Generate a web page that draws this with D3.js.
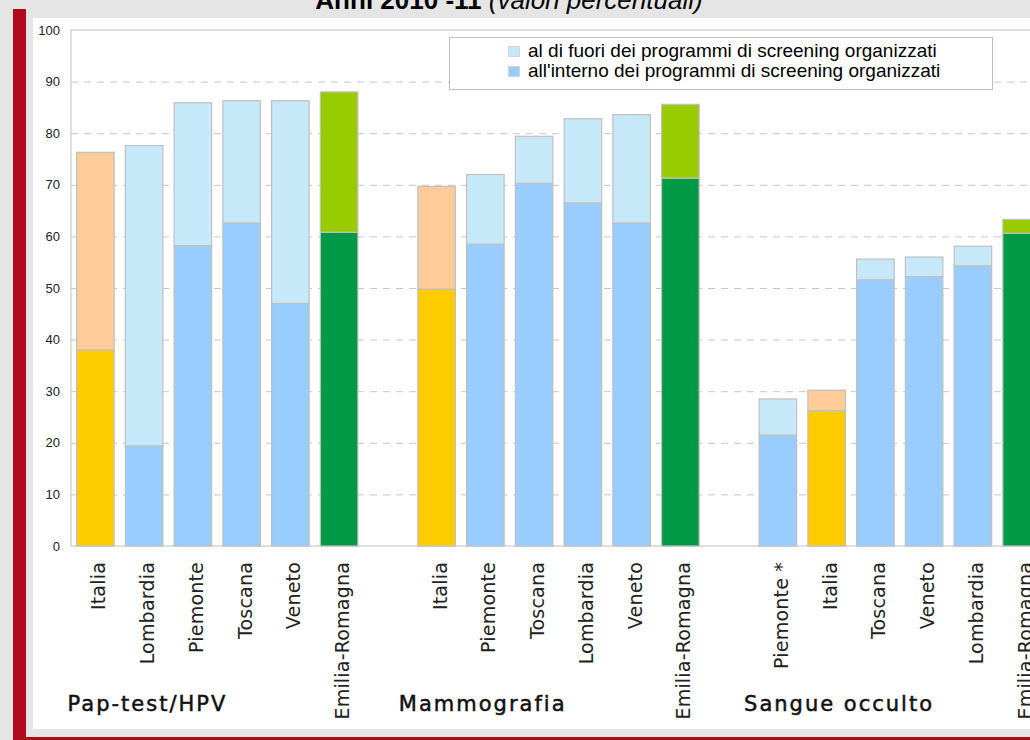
<!DOCTYPE html>
<html><head><meta charset="utf-8">
<script src="https://cdn.jsdelivr.net/npm/d3@7"></script>
<style>
body{margin:0;background:#e5e5e5;overflow:hidden}
svg{display:block}
</style>
</head><body>
<svg id="c" width="1030" height="740"></svg>
<script>
// ---- data ----
const titleBold = "Anni 2010 -11";
const titleItalic = "(valori percentuali)";
const groups = ["Pap-test/HPV", "Mammografia", "Sangue occulto"];
const papRegions = ["Italia", "Lombardia", "Piemonte", "Toscana", "Veneto", "Emilia-Romagna"];
const papInside  = [38.0, 19.4, 58.2, 62.6, 47.0, 60.8];
const papOutside = [38.3, 58.2, 27.7, 23.7, 39.3, 27.2];
const mamRegions = ["Italia", "Piemonte", "Toscana", "Lombardia", "Veneto", "Emilia-Romagna"];
const mamInside  = [49.8, 58.5, 70.3, 66.5, 62.6, 71.3];
const mamOutside = [19.9, 13.5, 9.1, 16.3, 21.0, 14.3];
const sanRegions = ["Piemonte *", "Italia", "Toscana", "Veneto", "Lombardia", "Emilia-Romagna"];
const sanInside  = [21.5, 26.2, 51.6, 52.2, 54.3, 60.6];
const sanOutside = [7.0, 4.0, 4.0, 3.8, 3.8, 2.7];
const legendLabels = ["al di fuori dei programmi di screening organizzati",
                      "all'interno dei programmi di screening organizzati"];
const yTicks = [0, 10, 20, 30, 40, 50, 60, 70, 80, 90, 100];

// ---- table ----
const groupData = [
  {name: groups[0], regions: papRegions, inside: papInside, outside: papOutside},
  {name: groups[1], regions: mamRegions, inside: mamInside, outside: mamOutside},
  {name: groups[2], regions: sanRegions, inside: sanInside, outside: sanOutside}
];
const rows = [];
const slots = [];
groupData.forEach((g, gi) => {
  g.regions.forEach((r, i) => {
    const key = gi + "-" + i;
    slots.push(key);
    rows.push({key, group: gi, region: r, inside: g.inside[i], outside: g.outside[i]});
  });
  if (gi < groupData.length - 1) slots.push("gap" + gi);
});

function colors(region) {
  if (region === "Italia") return {inside: "#ffcc00", outside: "#ffcc99"};
  if (region === "Emilia-Romagna") return {inside: "#009a47", outside: "#99cc00"};
  return {inside: "#99ccff", outside: "#c6e9fa"};
}

const svg = d3.select("#c");
const W = 1030, H = 740;

// background panels
svg.append("rect").attr("x", 0).attr("y", 0).attr("width", W).attr("height", H).attr("fill", "#e5e5e5");
svg.append("rect").attr("x", 33).attr("y", 18).attr("width", W - 33).attr("height", 711).attr("fill", "#ffffff");
svg.append("rect").attr("x", 13).attr("y", 9).attr("width", 13).attr("height", H - 9).attr("fill", "#b00c1c");
svg.append("rect").attr("x", 13).attr("y", 737).attr("width", W - 13).attr("height", 3).attr("fill", "#b00c1c");

// title
const title = svg.append("text").attr("x", 509).attr("y", 9)
  .attr("text-anchor", "middle")
  .attr("font-family", "'Liberation Sans', Arial, sans-serif")
  .attr("font-size", 26).attr("fill", "#000");
title.append("tspan").attr("font-weight", "bold").text(titleBold + " ");
title.append("tspan").attr("font-style", "italic").text(titleItalic);

// scales
const plotL = 71, plotT = 30, plotB = 546, plotR = 1046;
const x = d3.scaleBand().domain(slots).range([plotL, plotR]).paddingInner(0.23).paddingOuter(0.115);
const y = d3.scaleLinear().domain([0, 100]).range([plotB, plotT]);

// grid lines
const grid = svg.append("g").attr("transform", `translate(${plotL},0)`)
  .call(d3.axisLeft(y).tickValues(yTicks.filter(t => t > 0 && t < 100)).tickSize(-(plotR - plotL)).tickFormat(""));
grid.select(".domain").remove();
grid.selectAll("line").attr("stroke", "#c8c8c8").attr("stroke-width", 1).attr("stroke-dasharray", "7,6");

// frame
svg.append("rect").attr("x", plotL).attr("y", plotT).attr("width", plotR - plotL).attr("height", plotB - plotT)
  .attr("fill", "none").attr("stroke", "#c0c0c0").attr("stroke-width", 1);

// y axis labels
const yAxis = svg.append("g").attr("transform", `translate(${plotL},0)`)
  .call(d3.axisLeft(y).tickValues(yTicks).tickSize(0).tickPadding(11));
yAxis.select(".domain").remove();
yAxis.selectAll("text").attr("font-family", "'Liberation Sans', Arial, sans-serif")
  .attr("font-size", 13).attr("fill", "#222");

// bars
const bars = svg.append("g");
const bw = x.bandwidth();
bars.selectAll("rect.in").data(rows).join("rect").attr("class", "in")
  .attr("x", d => x(d.key)).attr("width", bw)
  .attr("y", d => y(d.inside)).attr("height", d => y(0) - y(d.inside))
  .attr("fill", d => colors(d.region).inside)
  .attr("stroke", "#c0c0c0").attr("stroke-width", 1.2);
bars.selectAll("rect.out").data(rows).join("rect").attr("class", "out")
  .attr("x", d => x(d.key)).attr("width", bw)
  .attr("y", d => y(d.inside + d.outside)).attr("height", d => y(d.inside) - y(d.inside + d.outside))
  .attr("fill", d => colors(d.region).outside)
  .attr("stroke", "#c0c0c0").attr("stroke-width", 1.2);

// x labels (rotated)
svg.append("g").selectAll("text").data(rows).join("text")
  .attr("transform", d => `translate(${x(d.key) + bw / 2 + 10},562) rotate(-90)`)
  .attr("text-anchor", "end")
  .attr("font-family", "'DejaVu Sans', Verdana, sans-serif")
  .attr("font-size", 19).attr("letter-spacing", "0.2px")
  .attr("fill", "#222")
  .text(d => d.region);

// group labels
const groupOffsets = [-9, -19, -15];
svg.append("g").selectAll("text").data(groupData).join("text")
  .attr("x", (g, i) => x(i + "-0") + groupOffsets[i])
  .attr("y", 711)
  .attr("font-family", "'DejaVu Sans', Verdana, sans-serif")
  .attr("font-size", 21).attr("letter-spacing", "2px")
  .attr("fill", "#111").attr("stroke", "#111").attr("stroke-width", 0.5)
  .text(g => g.name);

// legend
const lg = svg.append("g");
lg.append("rect").attr("x", 449.5).attr("y", 37.5).attr("width", 543).attr("height", 52)
  .attr("fill", "#fff").attr("stroke", "#c0c0c0");
const legendColors = [colors("x").outside, colors("x").inside];
legendLabels.forEach((t, i) => {
  lg.append("rect").attr("x", 508.5).attr("y", 46.5 + i * 20).attr("width", 11).attr("height", 10)
    .attr("fill", legendColors[i]).attr("stroke", "#d0d0d0").attr("stroke-width", 0.8);
  lg.append("text").attr("x", 528).attr("y", 57 + i * 20)
    .attr("font-family", "'Liberation Sans', Arial, sans-serif")
    .attr("font-size", 19).attr("fill", "#000").text(t);
});
</script>
</body></html>
